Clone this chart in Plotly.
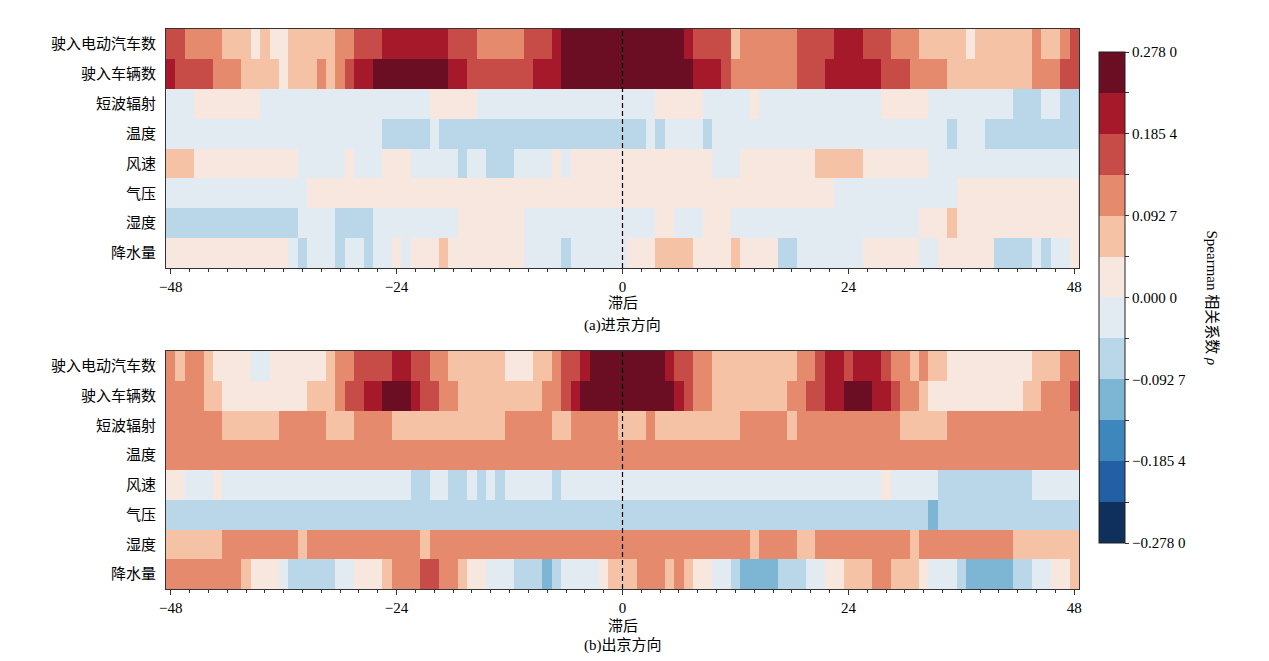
""" Lagged Spearman correlation heatmaps: inbound (a) and outbound (b) traffic vs. weather """
import plotly.graph_objects as go

# lag axis (hours) and row labels
lags = list(range(-48, 49))
row_labels = ["驶入电动汽车数", "驶入车辆数", "短波辐射", "温度", "风速", "气压", "湿度", "降水量"]

# colour bins of the colorbar
rho_min = -0.278
rho_max = 0.278
bin_edges = [-0.278, -0.2317, -0.1854, -0.139, -0.0927, -0.0463, 0.0,
             0.0463, 0.0927, 0.139, 0.1854, 0.2317, 0.278]
bin_labels = ["−0.278 0", "", "−0.185 4", "", "−0.092 7", "", "0.000 0",
              "", "0.092 7", "", "0.185 4", "", "0.278 0"]

# ---------------- (a) 进京方向 ----------------
in_ev = [
    0.16, 0.16, 0.12, 0.12, 0.12, 0.12, 0.07, 0.07, 0.07, 0.02, 0.07, 0.02, 0.02, 0.07, 0.07, 0.07, 0.07, 0.07, 0.12, 0.12,
    0.16, 0.16, 0.16, 0.21, 0.21, 0.21, 0.21, 0.21, 0.21, 0.21, 0.16, 0.16, 0.16, 0.12, 0.12, 0.12, 0.12, 0.12, 0.16, 0.16,
    0.16, 0.21, 0.25, 0.25, 0.25, 0.25, 0.25, 0.25, 0.25, 0.25, 0.25, 0.25, 0.25, 0.25, 0.25, 0.21, 0.16, 0.16, 0.16, 0.16,
    0.07, 0.12, 0.12, 0.12, 0.12, 0.12, 0.12, 0.16, 0.16, 0.16, 0.16, 0.21, 0.21, 0.21, 0.16, 0.16, 0.16, 0.12, 0.12, 0.12,
    0.07, 0.07, 0.07, 0.07, 0.07, 0.02, 0.07, 0.07, 0.07, 0.07, 0.07, 0.07, 0.12, 0.07, 0.07, 0.12, 0.16]
in_veh = [
    0.21, 0.16, 0.16, 0.16, 0.16, 0.12, 0.12, 0.12, 0.07, 0.07, 0.07, 0.07, 0.02, 0.07, 0.07, 0.07, 0.12, 0.07, 0.12, 0.16,
    0.21, 0.21, 0.25, 0.25, 0.25, 0.25, 0.25, 0.25, 0.25, 0.25, 0.21, 0.21, 0.16, 0.16, 0.16, 0.16, 0.16, 0.16, 0.16, 0.21,
    0.21, 0.21, 0.25, 0.25, 0.25, 0.25, 0.25, 0.25, 0.25, 0.25, 0.25, 0.25, 0.25, 0.25, 0.25, 0.25, 0.21, 0.21, 0.21, 0.16,
    0.12, 0.12, 0.12, 0.12, 0.12, 0.12, 0.12, 0.16, 0.16, 0.16, 0.21, 0.21, 0.21, 0.21, 0.21, 0.21, 0.16, 0.16, 0.16, 0.12,
    0.12, 0.12, 0.12, 0.07, 0.07, 0.07, 0.07, 0.07, 0.07, 0.07, 0.07, 0.07, 0.12, 0.12, 0.12, 0.16, 0.16]
in_sw = [
    -0.02, -0.02, -0.02, 0.02, 0.02, 0.02, 0.02, 0.02, 0.02, 0.02, -0.02, -0.02, -0.02, -0.02, -0.02, -0.02, -0.02, -0.02, -0.02, -0.02,
    -0.02, -0.02, -0.02, -0.02, -0.02, -0.02, -0.02, -0.02, 0.02, 0.02, 0.02, 0.02, 0.02, -0.02, -0.02, -0.02, -0.02, -0.02, -0.02, -0.02,
    -0.02, -0.02, -0.02, -0.02, -0.02, -0.02, -0.02, -0.02, -0.02, -0.02, -0.02, -0.02, 0.02, 0.02, 0.02, 0.02, 0.02, -0.02, -0.02, -0.02,
    -0.02, -0.02, 0.02, -0.02, -0.02, -0.02, -0.02, -0.02, -0.02, -0.02, -0.02, -0.02, -0.02, -0.02, -0.02, -0.02, 0.02, 0.02, 0.02, 0.02,
    0.02, -0.02, -0.02, -0.02, -0.02, -0.02, -0.02, -0.02, -0.02, -0.02, -0.07, -0.07, -0.07, -0.02, -0.02, -0.07, -0.07]
in_temp = [
    -0.02, -0.02, -0.02, -0.02, -0.02, -0.02, -0.02, -0.02, -0.02, -0.02, -0.02, -0.02, -0.02, -0.02, -0.02, -0.02, -0.02, -0.02, -0.02, -0.02,
    -0.02, -0.02, -0.02, -0.07, -0.07, -0.07, -0.07, -0.07, -0.02, -0.07, -0.07, -0.07, -0.07, -0.07, -0.07, -0.07, -0.07, -0.07, -0.07, -0.07,
    -0.07, -0.07, -0.07, -0.07, -0.07, -0.07, -0.07, -0.07, -0.07, -0.07, -0.07, -0.02, -0.07, -0.02, -0.02, -0.02, -0.02, -0.07, -0.02, -0.02,
    -0.02, -0.02, -0.02, -0.02, -0.02, -0.02, -0.02, -0.02, -0.02, -0.02, -0.02, -0.02, -0.02, -0.02, -0.02, -0.02, -0.02, -0.02, -0.02, -0.02,
    -0.02, -0.02, -0.02, -0.07, -0.02, -0.02, -0.02, -0.07, -0.07, -0.07, -0.07, -0.07, -0.07, -0.07, -0.07, -0.07, -0.07]
in_wind = [
    0.07, 0.07, 0.07, 0.02, 0.02, 0.02, 0.02, 0.02, 0.02, 0.02, 0.02, 0.02, 0.02, 0.02, -0.02, -0.02, -0.02, -0.02, -0.02, 0.02,
    -0.02, -0.02, -0.02, 0.02, 0.02, 0.02, -0.02, -0.02, -0.02, -0.02, -0.02, -0.07, -0.02, -0.02, -0.07, -0.07, -0.07, -0.02, -0.02, -0.02,
    -0.02, 0.02, -0.02, 0.02, 0.02, 0.02, 0.02, 0.02, 0.02, 0.02, 0.02, 0.02, 0.02, 0.02, 0.02, 0.02, 0.02, 0.02, -0.02, -0.02,
    -0.02, 0.02, 0.02, 0.02, 0.02, 0.02, 0.02, 0.02, 0.02, 0.07, 0.07, 0.07, 0.07, 0.07, 0.02, 0.02, 0.02, 0.02, 0.02, 0.02,
    0.02, -0.02, -0.02, -0.02, -0.02, -0.02, -0.02, -0.02, -0.02, -0.02, -0.02, -0.02, -0.02, -0.02, -0.02, -0.02, -0.02]
in_press = [
    -0.02, -0.02, -0.02, -0.02, -0.02, -0.02, -0.02, -0.02, -0.02, -0.02, -0.02, -0.02, -0.02, -0.02, -0.02, 0.02, 0.02, 0.02, 0.02, 0.02,
    0.02, 0.02, 0.02, 0.02, 0.02, 0.02, 0.02, 0.02, 0.02, 0.02, 0.02, 0.02, 0.02, 0.02, 0.02, 0.02, 0.02, 0.02, 0.02, 0.02,
    0.02, 0.02, 0.02, 0.02, 0.02, 0.02, 0.02, 0.02, 0.02, 0.02, 0.02, 0.02, 0.02, 0.02, 0.02, 0.02, 0.02, 0.02, 0.02, 0.02,
    0.02, 0.02, 0.02, 0.02, 0.02, 0.02, 0.02, 0.02, 0.02, 0.02, 0.02, -0.02, -0.02, -0.02, -0.02, -0.02, -0.02, -0.02, -0.02, -0.02,
    -0.02, -0.02, -0.02, -0.02, 0.02, 0.02, 0.02, 0.02, 0.02, 0.02, 0.02, 0.02, 0.02, 0.02, 0.02, 0.02, 0.02]
in_hum = [
    -0.07, -0.07, -0.07, -0.07, -0.07, -0.07, -0.07, -0.07, -0.07, -0.07, -0.07, -0.07, -0.07, -0.07, -0.02, -0.02, -0.02, -0.02, -0.07, -0.07,
    -0.07, -0.07, -0.02, -0.02, -0.02, -0.02, -0.02, -0.02, -0.02, -0.02, -0.02, 0.02, 0.02, 0.02, 0.02, 0.02, 0.02, 0.02, -0.02, -0.02,
    -0.02, -0.02, -0.02, -0.02, -0.02, -0.02, -0.02, -0.02, -0.02, -0.02, -0.02, -0.02, 0.02, 0.02, -0.02, -0.02, -0.02, 0.02, 0.02, 0.02,
    -0.02, -0.02, -0.02, -0.02, -0.02, -0.02, -0.02, -0.02, -0.02, -0.02, -0.02, -0.02, -0.02, -0.02, -0.02, -0.02, -0.02, -0.02, -0.02, -0.02,
    0.02, 0.02, 0.02, 0.07, 0.02, 0.02, 0.02, 0.02, 0.02, 0.02, 0.02, 0.02, 0.02, 0.02, 0.02, 0.02, 0.02]
in_rain = [
    0.02, 0.02, 0.02, 0.02, 0.02, 0.02, 0.02, 0.02, 0.02, 0.02, 0.02, 0.02, 0.02, -0.02, -0.07, -0.02, -0.02, -0.02, -0.07, -0.02,
    -0.02, -0.07, -0.02, -0.02, 0.02, -0.02, 0.02, 0.02, 0.02, 0.07, 0.02, 0.02, 0.02, 0.02, 0.02, 0.02, 0.02, 0.02, -0.02, -0.02,
    -0.02, -0.02, -0.07, -0.02, -0.02, -0.02, -0.02, -0.02, -0.02, 0.02, 0.02, 0.02, 0.07, 0.07, 0.07, 0.07, 0.02, 0.02, 0.02, 0.02,
    0.07, 0.02, 0.02, 0.02, 0.02, -0.07, -0.07, -0.02, -0.02, -0.02, -0.02, -0.02, -0.02, -0.02, 0.02, 0.02, 0.02, 0.02, 0.02, 0.02,
    -0.02, -0.02, 0.02, 0.02, 0.02, 0.02, 0.02, 0.02, -0.07, -0.07, -0.07, -0.07, -0.02, -0.07, -0.02, -0.02, 0.02]

# ---------------- (b) 出京方向 ----------------
out_ev = [
    0.12, 0.07, 0.12, 0.12, 0.07, 0.02, 0.02, 0.02, 0.02, -0.02, -0.02, 0.02, 0.02, 0.02, 0.02, 0.02, 0.02, 0.07, 0.12, 0.12,
    0.16, 0.16, 0.16, 0.16, 0.21, 0.21, 0.16, 0.16, 0.12, 0.12, 0.07, 0.07, 0.07, 0.07, 0.07, 0.07, 0.02, 0.02, 0.02, 0.07,
    0.07, 0.12, 0.16, 0.16, 0.21, 0.25, 0.25, 0.25, 0.25, 0.25, 0.25, 0.25, 0.25, 0.21, 0.16, 0.16, 0.12, 0.12, 0.07, 0.07,
    0.07, 0.07, 0.07, 0.07, 0.07, 0.07, 0.07, 0.12, 0.12, 0.16, 0.21, 0.21, 0.16, 0.21, 0.21, 0.21, 0.16, 0.12, 0.12, 0.07,
    0.12, 0.07, 0.07, 0.02, 0.02, 0.02, 0.02, 0.02, 0.02, 0.02, 0.02, 0.02, 0.07, 0.07, 0.07, 0.12, 0.12]
out_veh = [
    0.12, 0.12, 0.12, 0.12, 0.07, 0.07, 0.02, 0.02, 0.02, 0.02, 0.02, 0.02, 0.02, 0.02, 0.02, 0.07, 0.07, 0.07, 0.12, 0.16,
    0.16, 0.21, 0.21, 0.25, 0.25, 0.25, 0.21, 0.16, 0.16, 0.12, 0.12, 0.07, 0.07, 0.07, 0.07, 0.07, 0.07, 0.07, 0.07, 0.07,
    0.12, 0.12, 0.16, 0.21, 0.25, 0.25, 0.25, 0.25, 0.25, 0.25, 0.25, 0.25, 0.25, 0.25, 0.21, 0.16, 0.12, 0.12, 0.07, 0.07,
    0.07, 0.07, 0.07, 0.07, 0.07, 0.07, 0.12, 0.12, 0.16, 0.16, 0.21, 0.21, 0.25, 0.25, 0.25, 0.21, 0.21, 0.16, 0.12, 0.12,
    0.07, 0.02, 0.02, 0.02, 0.02, 0.02, 0.02, 0.02, 0.02, 0.02, 0.02, 0.07, 0.07, 0.12, 0.12, 0.12, 0.16]
out_sw = [
    0.12, 0.12, 0.12, 0.12, 0.12, 0.12, 0.07, 0.07, 0.07, 0.07, 0.07, 0.07, 0.12, 0.12, 0.12, 0.12, 0.12, 0.07, 0.07, 0.07,
    0.12, 0.12, 0.12, 0.12, 0.07, 0.07, 0.07, 0.07, 0.07, 0.07, 0.07, 0.07, 0.07, 0.07, 0.07, 0.07, 0.12, 0.12, 0.12, 0.12,
    0.12, 0.07, 0.07, 0.12, 0.12, 0.12, 0.12, 0.12, 0.07, 0.07, 0.07, 0.12, 0.07, 0.07, 0.07, 0.07, 0.07, 0.07, 0.07, 0.07,
    0.07, 0.12, 0.12, 0.12, 0.12, 0.12, 0.07, 0.12, 0.12, 0.12, 0.12, 0.12, 0.12, 0.12, 0.12, 0.12, 0.12, 0.12, 0.07, 0.07,
    0.07, 0.07, 0.07, 0.12, 0.12, 0.12, 0.12, 0.12, 0.12, 0.12, 0.12, 0.12, 0.12, 0.12, 0.12, 0.12, 0.12]
out_temp = [
    0.12, 0.12, 0.12, 0.12, 0.12, 0.12, 0.12, 0.12, 0.12, 0.12, 0.12, 0.12, 0.12, 0.12, 0.12, 0.12, 0.12, 0.12, 0.12, 0.12,
    0.12, 0.12, 0.12, 0.12, 0.12, 0.12, 0.12, 0.12, 0.12, 0.12, 0.12, 0.12, 0.12, 0.12, 0.12, 0.12, 0.12, 0.12, 0.12, 0.12,
    0.12, 0.12, 0.12, 0.12, 0.12, 0.12, 0.12, 0.12, 0.12, 0.12, 0.12, 0.12, 0.12, 0.12, 0.12, 0.12, 0.12, 0.12, 0.12, 0.12,
    0.12, 0.12, 0.12, 0.12, 0.12, 0.12, 0.12, 0.12, 0.12, 0.12, 0.12, 0.12, 0.12, 0.12, 0.12, 0.12, 0.12, 0.12, 0.12, 0.12,
    0.12, 0.12, 0.12, 0.12, 0.12, 0.12, 0.12, 0.12, 0.12, 0.12, 0.12, 0.12, 0.12, 0.12, 0.12, 0.12, 0.12]
out_wind = [
    0.02, 0.02, -0.02, -0.02, -0.02, 0.02, -0.02, -0.02, -0.02, -0.02, -0.02, -0.02, -0.02, -0.02, -0.02, -0.02, -0.02, -0.02, -0.02, -0.02,
    -0.02, -0.02, -0.02, -0.02, -0.02, -0.02, -0.07, -0.07, -0.02, -0.02, -0.07, -0.07, -0.02, -0.07, -0.02, -0.07, -0.02, -0.02, -0.02, -0.02,
    -0.02, -0.07, -0.02, -0.02, -0.02, -0.02, -0.02, -0.02, -0.02, -0.02, -0.02, -0.02, -0.02, -0.02, -0.02, -0.02, -0.02, -0.02, -0.02, -0.02,
    -0.02, -0.02, -0.02, -0.02, -0.02, -0.02, -0.02, -0.02, -0.02, -0.02, -0.02, -0.02, -0.02, -0.02, -0.02, -0.02, 0.02, -0.02, -0.02, -0.02,
    -0.02, -0.02, -0.07, -0.07, -0.07, -0.07, -0.07, -0.07, -0.07, -0.07, -0.07, -0.07, -0.02, -0.02, -0.02, -0.02, -0.02]
out_press = [
    -0.07, -0.07, -0.07, -0.07, -0.07, -0.07, -0.07, -0.07, -0.07, -0.07, -0.07, -0.07, -0.07, -0.07, -0.07, -0.07, -0.07, -0.07, -0.07, -0.07,
    -0.07, -0.07, -0.07, -0.07, -0.07, -0.07, -0.07, -0.07, -0.07, -0.07, -0.07, -0.07, -0.07, -0.07, -0.07, -0.07, -0.07, -0.07, -0.07, -0.07,
    -0.07, -0.07, -0.07, -0.07, -0.07, -0.07, -0.07, -0.07, -0.07, -0.07, -0.07, -0.07, -0.07, -0.07, -0.07, -0.07, -0.07, -0.07, -0.07, -0.07,
    -0.07, -0.07, -0.07, -0.07, -0.07, -0.07, -0.07, -0.07, -0.07, -0.07, -0.07, -0.07, -0.07, -0.07, -0.07, -0.07, -0.07, -0.07, -0.07, -0.07,
    -0.07, -0.12, -0.07, -0.07, -0.07, -0.07, -0.07, -0.07, -0.07, -0.07, -0.07, -0.07, -0.07, -0.07, -0.07, -0.07, -0.07]
out_hum = [
    0.07, 0.07, 0.07, 0.07, 0.07, 0.07, 0.12, 0.12, 0.12, 0.12, 0.12, 0.12, 0.12, 0.12, 0.07, 0.12, 0.12, 0.12, 0.12, 0.12,
    0.12, 0.12, 0.12, 0.12, 0.12, 0.12, 0.12, 0.07, 0.12, 0.12, 0.12, 0.12, 0.12, 0.12, 0.12, 0.12, 0.12, 0.12, 0.12, 0.12,
    0.12, 0.12, 0.12, 0.12, 0.12, 0.12, 0.12, 0.12, 0.12, 0.12, 0.12, 0.12, 0.12, 0.12, 0.12, 0.12, 0.12, 0.12, 0.12, 0.12,
    0.12, 0.12, 0.07, 0.12, 0.12, 0.12, 0.12, 0.07, 0.07, 0.12, 0.12, 0.12, 0.12, 0.12, 0.12, 0.12, 0.12, 0.12, 0.12, 0.07,
    0.12, 0.12, 0.12, 0.12, 0.12, 0.12, 0.12, 0.12, 0.12, 0.12, 0.07, 0.07, 0.07, 0.07, 0.07, 0.07, 0.07]
out_rain = [
    0.12, 0.12, 0.12, 0.12, 0.12, 0.12, 0.12, 0.12, 0.07, 0.02, 0.02, 0.02, -0.02, -0.07, -0.07, -0.07, -0.07, -0.07, -0.02, -0.02,
    0.02, 0.02, 0.02, 0.07, 0.12, 0.12, 0.12, 0.16, 0.16, 0.12, 0.12, 0.07, 0.02, 0.02, -0.02, -0.02, -0.02, -0.07, -0.07, -0.07,
    -0.12, -0.07, -0.02, -0.02, -0.02, -0.02, 0.02, 0.07, 0.07, 0.07, 0.12, 0.12, 0.12, 0.07, 0.12, 0.07, 0.02, 0.02, -0.02, -0.02,
    -0.07, -0.12, -0.12, -0.12, -0.12, -0.07, -0.07, -0.07, -0.02, -0.02, 0.02, 0.02, 0.07, 0.07, 0.07, 0.12, 0.12, 0.07, 0.07, 0.07,
    0.02, -0.02, -0.02, -0.02, -0.07, -0.12, -0.12, -0.12, -0.12, -0.12, -0.07, -0.07, -0.02, -0.02, 0.02, 0.02, 0.07]

z_in = [in_ev, in_veh, in_sw, in_temp, in_wind, in_press, in_hum, in_rain]
z_out = [out_ev, out_veh, out_sw, out_temp, out_wind, out_press, out_hum, out_rain]

# discrete RdBu_r, 12 bins
bin_colors = ["#0f305c", "#235fa4", "#3e87bd", "#7db5d5", "#b9d7e8", "#e2ebf2",
              "#f7e7de", "#f5c2a6", "#e58a6c", "#c74c48", "#a6192b", "#6b0d23"]
n = len(bin_colors)
colorscale = []
for i, c in enumerate(bin_colors):
    colorscale.append([i / n, c])
    colorscale.append([(i + 1) / n, c])

FONT = "Liberation Serif, Times New Roman, Noto Sans CJK SC"
W, H = 1269, 661
OFF = 8  # page body margin around the figure


def px_x(px):
    """ screenshot x pixel -> paper fraction """
    return (px - OFF) / W


def px_y(py):
    """ screenshot y pixel -> paper fraction """
    return 1 - (py - OFF) / H


fig = go.Figure()
fig.add_trace(go.Heatmap(z=z_in, x=lags, y=row_labels, coloraxis="coloraxis",
                         xaxis="x", yaxis="y"))
fig.add_trace(go.Heatmap(z=z_out, x=lags, y=row_labels, coloraxis="coloraxis",
                         xaxis="x2", yaxis="y2"))

xaxis_style = dict(
    domain=[px_x(166), px_x(1079)], range=[-48.5, 48.5], automargin=False,
    tickvals=[-48, -24, 0, 24, 48], ticktext=["−48", "−24", "0", "24", "48"],
    ticks="outside", ticklen=5, tickcolor="#333", tickwidth=1,
    minor=dict(tick0=0, dtick=2, ticks="outside", ticklen=3, tickcolor="#333"),
    showline=True, linecolor="#333", linewidth=1, mirror=True,
    showgrid=False, zeroline=False,
    tickfont=dict(size=15, color="black"),
)
yaxis_style = dict(
    autorange="reversed", automargin=False, ticks="", showline=True,
    linecolor="#333", linewidth=1, mirror=True, showgrid=False, zeroline=False,
    ticklabelstandoff=6, tickfont=dict(size=15, color="black"),
)

fig.update_layout(
    width=W, height=H,
    margin=dict(l=0, r=0, t=0, b=0),
    paper_bgcolor="white", plot_bgcolor="white",
    font=dict(family=FONT, color="black"),
    xaxis=dict(xaxis_style, anchor="y"),
    xaxis2=dict(xaxis_style, anchor="y2"),
    yaxis=dict(yaxis_style, domain=[px_y(268), px_y(29)], anchor="x"),
    yaxis2=dict(yaxis_style, domain=[px_y(589), px_y(351)], anchor="x2"),
    coloraxis=dict(
        cmin=rho_min, cmax=rho_max, colorscale=colorscale,
        colorbar=dict(
            x=px_x(1099), xanchor="left", xref="paper",
            y=px_y(297.5), yanchor="middle", yref="paper",
            len=491 / H, lenmode="fraction",
            thickness=26, thicknessmode="pixels",
            outlinewidth=1, outlinecolor="#222", xpad=0, ypad=0,
            tickvals=bin_edges, ticktext=bin_labels,
            ticks="outside", ticklen=4, tickcolor="#333",
            tickfont=dict(size=15, color="black"),
        ),
    ),
    showlegend=False,
)

# dashed zero-lag lines
for xr, yr in [("x", "y domain"), ("x2", "y2 domain")]:
    fig.add_shape(type="line", xref=xr, yref=yr, x0=0, x1=0, y0=0, y1=1,
                  line=dict(color="black", width=1.2, dash="5px,3px"))

# axis titles, panel captions and colorbar title
for txt, ypx in [("滞后", 303), ("(a)进京方向", 325), ("滞后", 626), ("(b)出京方向", 645)]:
    fig.add_annotation(text=txt, x=px_x(622.5), y=px_y(ypx), xref="paper", yref="paper",
                       showarrow=False, yanchor="middle", font=dict(size=15, color="black"))
fig.add_annotation(text="Spearman 相关系数 <i>ρ</i>", x=px_x(1222), y=px_y(297.5),
                   xref="paper", yref="paper", showarrow=False, textangle=90,
                   font=dict(size=15, color="black"))

fig.write_html("out.html")
